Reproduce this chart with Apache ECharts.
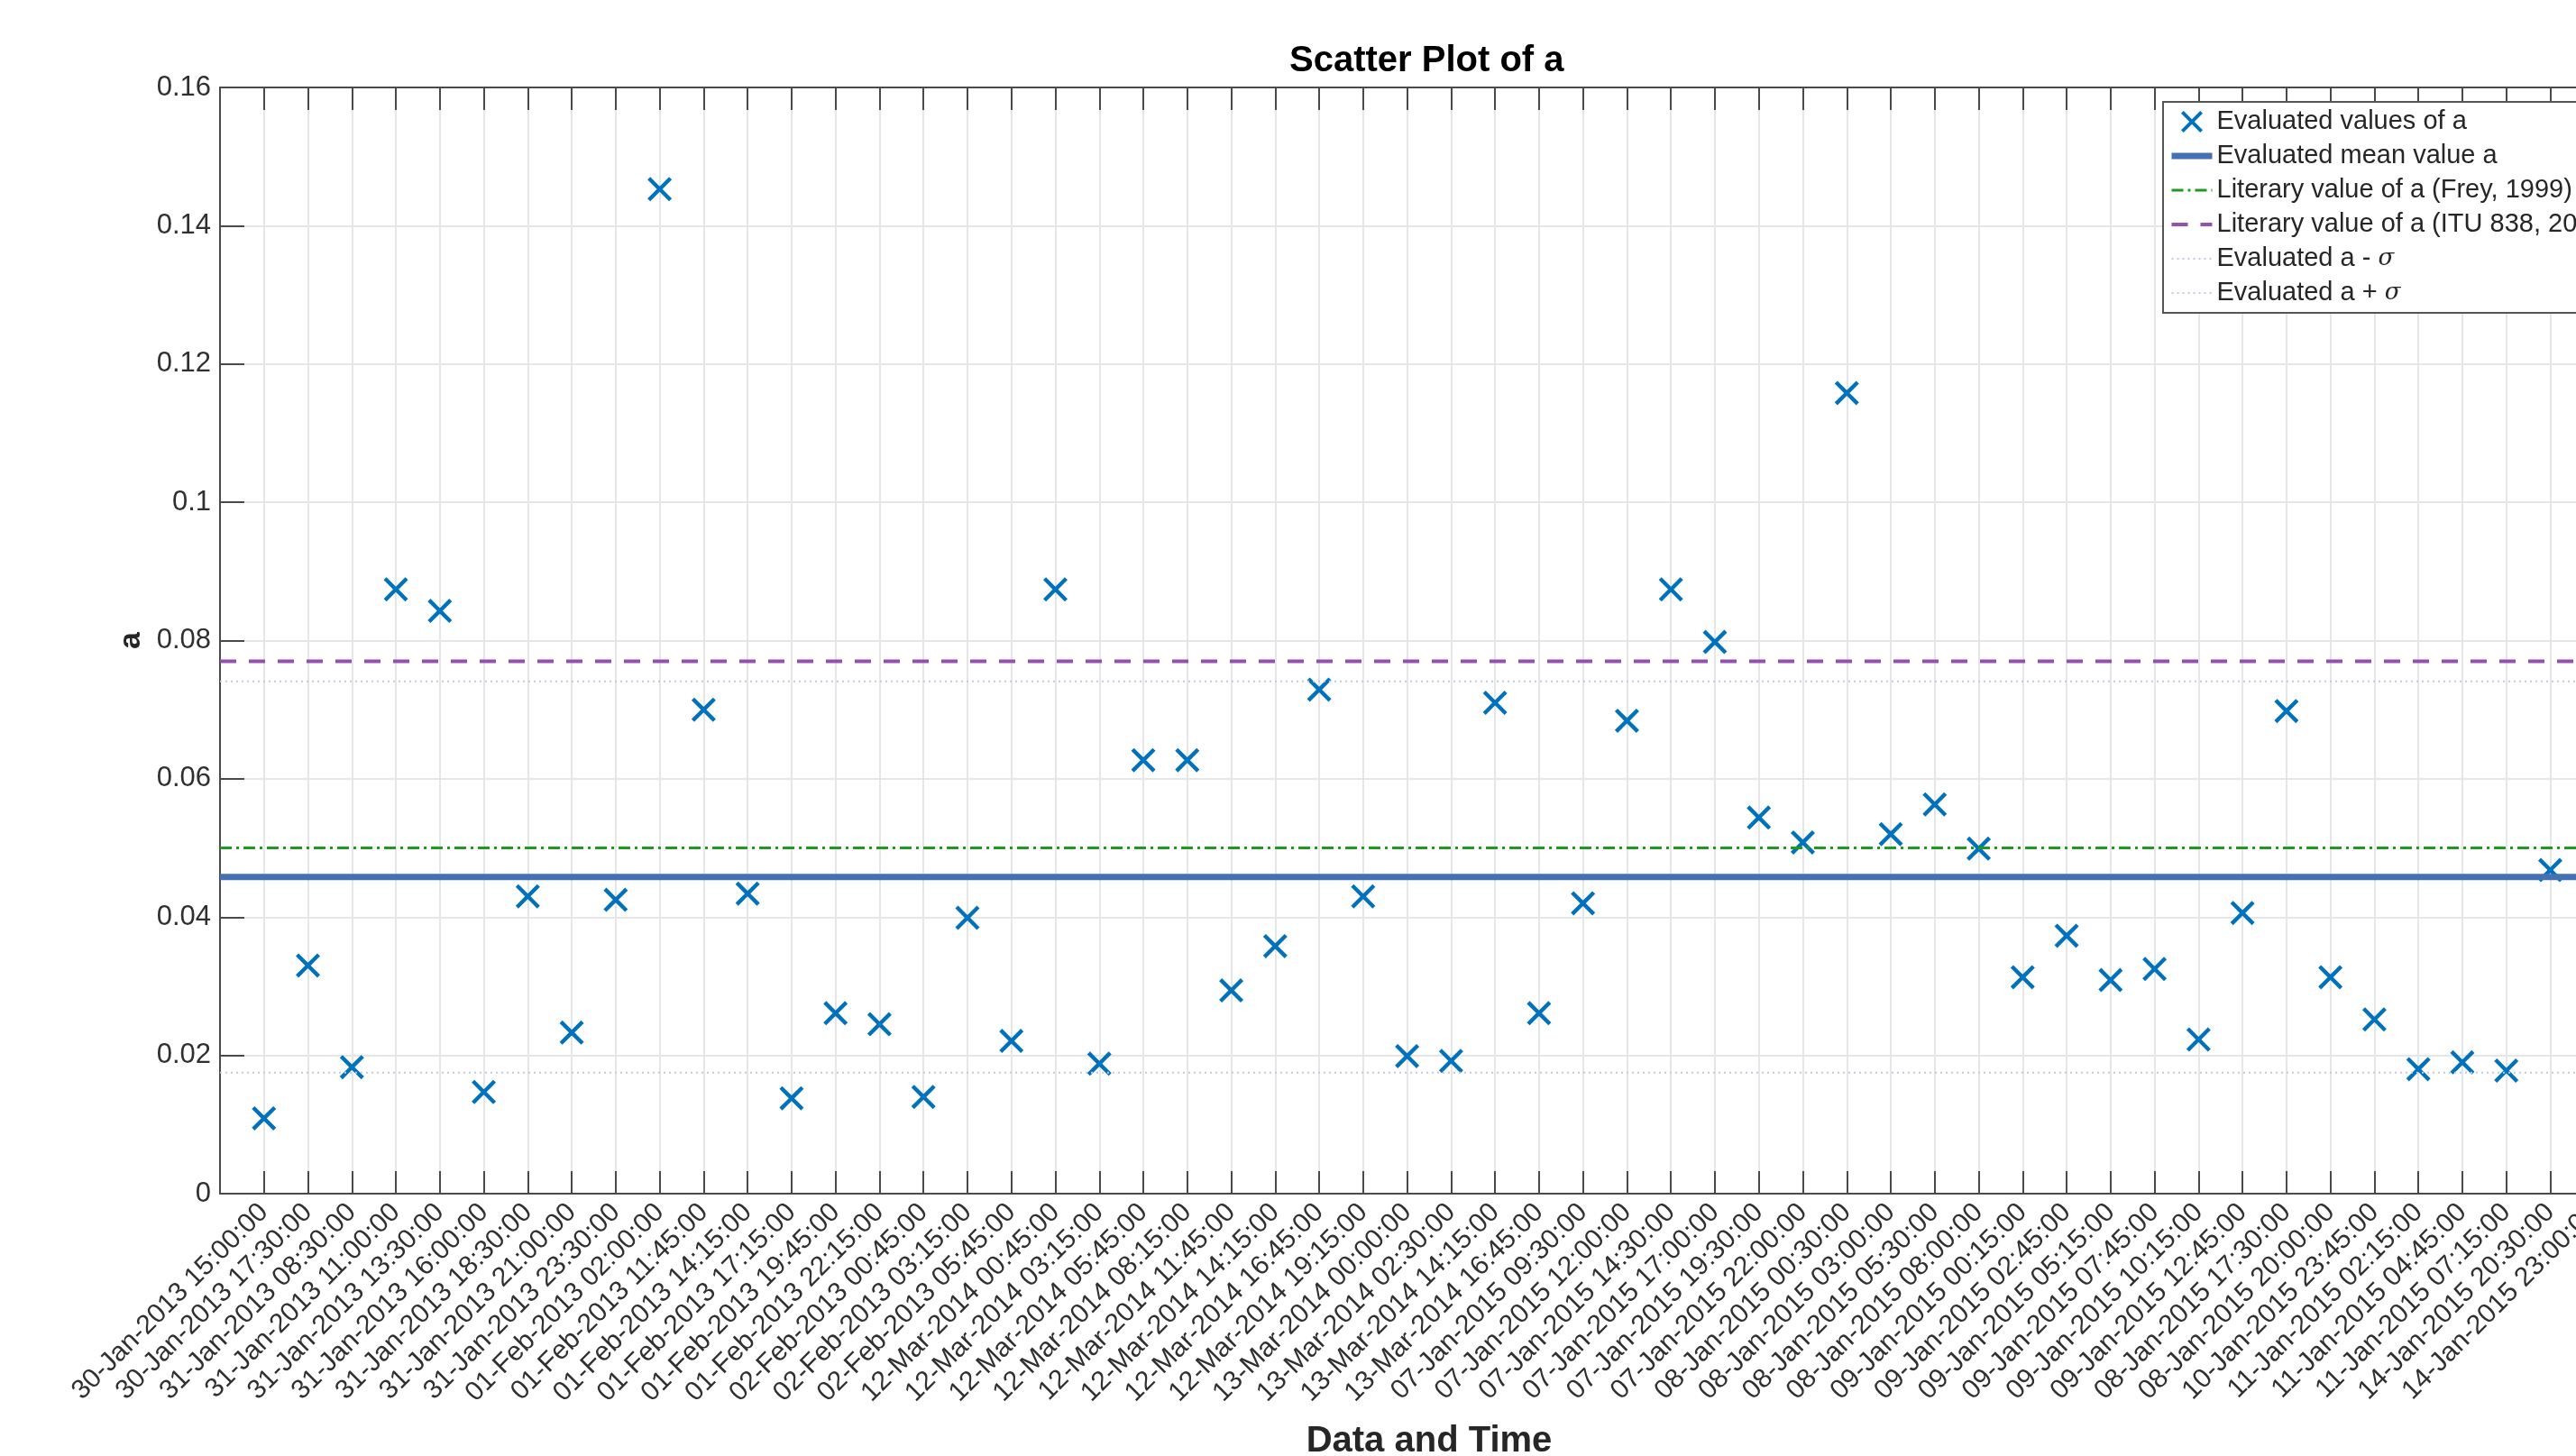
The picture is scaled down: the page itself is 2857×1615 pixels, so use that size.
<!DOCTYPE html>
<html>
<head>
<meta charset="utf-8">
<script src="https://cdn.jsdelivr.net/npm/echarts@6/dist/echarts.min.js"></script>
<style>html,body{margin:0;padding:0;background:#fff;overflow:hidden;width:2857px;height:1615px}#c{width:2960px;height:1615px}</style>
</head>
<body>
<div id="c"></div>
<script>
// ---- data ----
const timeLabels = [
  '30-Jan-2013 15:00:00','30-Jan-2013 17:30:00','31-Jan-2013 08:30:00','31-Jan-2013 11:00:00',
  '31-Jan-2013 13:30:00','31-Jan-2013 16:00:00','31-Jan-2013 18:30:00','31-Jan-2013 21:00:00',
  '31-Jan-2013 23:30:00','01-Feb-2013 02:00:00','01-Feb-2013 11:45:00','01-Feb-2013 14:15:00',
  '01-Feb-2013 17:15:00','01-Feb-2013 19:45:00','01-Feb-2013 22:15:00','02-Feb-2013 00:45:00',
  '02-Feb-2013 03:15:00','02-Feb-2013 05:45:00','12-Mar-2014 00:45:00','12-Mar-2014 03:15:00',
  '12-Mar-2014 05:45:00','12-Mar-2014 08:15:00','12-Mar-2014 11:45:00','12-Mar-2014 14:15:00',
  '12-Mar-2014 16:45:00','12-Mar-2014 19:15:00','13-Mar-2014 00:00:00','13-Mar-2014 02:30:00',
  '13-Mar-2014 14:15:00','13-Mar-2014 16:45:00','07-Jan-2015 09:30:00','07-Jan-2015 12:00:00',
  '07-Jan-2015 14:30:00','07-Jan-2015 17:00:00','07-Jan-2015 19:30:00','07-Jan-2015 22:00:00',
  '08-Jan-2015 00:30:00','08-Jan-2015 03:00:00','08-Jan-2015 05:30:00','08-Jan-2015 08:00:00',
  '09-Jan-2015 00:15:00','09-Jan-2015 02:45:00','09-Jan-2015 05:15:00','09-Jan-2015 07:45:00',
  '09-Jan-2015 10:15:00','09-Jan-2015 12:45:00','08-Jan-2015 17:30:00','08-Jan-2015 20:00:00',
  '10-Jan-2015 23:45:00','11-Jan-2015 02:15:00','11-Jan-2015 04:45:00','11-Jan-2015 07:15:00',
  '14-Jan-2015 20:30:00','14-Jan-2015 23:00:00'
];
const aValues = [
  0.0109, 0.0330, 0.0183, 0.0874, 0.0843, 0.0147, 0.0430, 0.0233, 0.0425, 0.1453,
  0.0700, 0.0434, 0.0138, 0.0261, 0.0245, 0.0140, 0.0399, 0.0221, 0.0874, 0.0188,
  0.0627, 0.0627, 0.0294, 0.0358, 0.0729, 0.0430, 0.0199, 0.0192, 0.0710, 0.0261,
  0.0420, 0.0684, 0.0874, 0.0798, 0.0544, 0.0508, 0.1158, 0.0520, 0.0563, 0.0499,
  0.0313, 0.0373, 0.0309, 0.0325, 0.0223, 0.0406, 0.0698, 0.0313, 0.0252, 0.0180,
  0.0190, 0.0178, 0.0468, 0.0600
];
const meanA = 0.0458;        // Evaluated mean value a
const freyA = 0.050;         // Literary value (Frey, 1999)
const ituA = 0.077;          // Literary value (ITU 838, 2005)
const aMinusSigma = 0.0175;  // Evaluated a - sigma
const aPlusSigma = 0.0741;   // Evaluated a + sigma
const yMin = 0, yMax = 0.16, yStep = 0.02;
const seriesNames = [
  'Evaluated values of a',
  'Evaluated mean value a',
  'Literary value of a (Frey, 1999)',
  'Literary value of a (ITU 838, 2005)',
  'Evaluated a - σ',
  'Evaluated a + σ'
];

// ---- chart ----
const FONT = 'Helvetica, "Liberation Sans", Arial, sans-serif';
const xMin = 0, xMax = timeLabels.length + 1;
const crossPath = 'path://M0,11.5L11.5,0L50,38.5L88.5,0L100,11.5L61.5,50L100,88.5L88.5,100L50,61.5L11.5,100L0,88.5L38.5,50Z';
const points = aValues.map((v, i) => [i + 1, v]);
const hline = v => [[xMin, v], [xMax, v]];
const NOFILL = 'rgba(0,0,0,0)';

const chart = echarts.init(document.getElementById('c'), null, {renderer: 'canvas'});
const axisColor = '#4a4a4a';
const baseX = {
  type: 'value', min: xMin, max: xMax, interval: 1,
  axisLine: {show: true, lineStyle: {color: axisColor, width: 2}},
  axisTick: {show: true, inside: true, length: 25, lineStyle: {color: axisColor, width: 2}}
};
function refLine(name, v, color, width, type) {
  return {
    name: name, type: 'line', data: hline(v), symbol: 'none', z: 4,
    itemStyle: {color: NOFILL, borderColor: NOFILL},
    lineStyle: {color: color, width: width, type: type}
  };
}
chart.setOption({
  animation: false,
  backgroundColor: '#ffffff',
  title: {
    text: 'Scatter Plot of a', left: 1430, top: 48, padding: 0,
    textStyle: {fontFamily: FONT, fontSize: 40, fontWeight: 'bold', color: '#000'}
  },
  legend: {
    orient: 'vertical', left: 2399, top: 113, padding: [7, 10, 7, 6],
    itemWidth: 45, itemHeight: 24, itemGap: 8, selectedMode: false,
    backgroundColor: '#ffffff', borderColor: '#555', borderWidth: 2,
    lineStyle: {width: 'inherit'},
    data: seriesNames,
    formatter: name => name.replace('σ', '{i|σ}'),
    textStyle: {
      fontFamily: FONT, fontSize: 29, color: '#262626', lineHeight: 30,
      rich: {i: {fontFamily: '"DejaVu Serif", "Liberation Serif", serif', fontStyle: 'italic', fontSize: 26, color: '#262626'}}
    }
  },
  grid: {left: 244, top: 97, width: 2682, height: 1227, containLabel: false, outerBoundsMode: 'none'},
  xAxis: [
    Object.assign({}, baseX, {
      position: 'bottom',
      name: 'Data and Time', nameLocation: 'middle', nameGap: 255,
      nameTextStyle: {fontFamily: FONT, fontSize: 40, fontWeight: 'bold', color: '#262626'},
      axisLabel: {
        show: true, rotate: 45, interval: 0, margin: 16,
        fontFamily: FONT, fontSize: 30, color: '#303030',
        showMinLabel: true, showMaxLabel: true, hideOverlap: false,
        formatter: v => {
          const k = Math.round(v);
          return (k >= 1 && k <= timeLabels.length) ? timeLabels[k - 1] : '';
        }
      },
      splitLine: {show: true, lineStyle: {color: '#e6e6e6', width: 2}}
    }),
    Object.assign({}, baseX, {
      position: 'top', axisLabel: {show: false}, splitLine: {show: false}
    })
  ],
  yAxis: {
    type: 'value', min: yMin, max: yMax, interval: yStep,
    name: 'a', nameLocation: 'middle', nameGap: 71, nameRotate: 90,
    nameTextStyle: {fontFamily: FONT, fontSize: 34, fontWeight: 'bold', color: '#262626'},
    axisLine: {show: true, lineStyle: {color: axisColor, width: 2}},
    axisTick: {show: true, inside: true, length: 27, lineStyle: {color: axisColor, width: 2}},
    axisLabel: {fontFamily: FONT, fontSize: 31, color: '#303030', margin: 10},
    splitLine: {show: true, lineStyle: {color: '#e6e6e6', width: 2}}
  },
  series: [
    {
      name: seriesNames[0], type: 'scatter', data: points,
      symbol: crossPath, symbolSize: 27,
      itemStyle: {color: '#0072BD', opacity: 1}, z: 3
    },
    refLine(seriesNames[1], meanA, '#4470B4', 7, 'solid'),
    refLine(seriesNames[2], freyA, '#1E9A1E', 3, [13, 5, 3, 5]),
    refLine(seriesNames[3], ituA, '#9350AE', 4, [18, 14]),
    refLine(seriesNames[4], aMinusSigma, '#c4c8e2', 2, [2, 4]),
    refLine(seriesNames[5], aPlusSigma, '#c4c8e2', 2, [2, 4])
  ]
});
</script>
</body>
</html>
